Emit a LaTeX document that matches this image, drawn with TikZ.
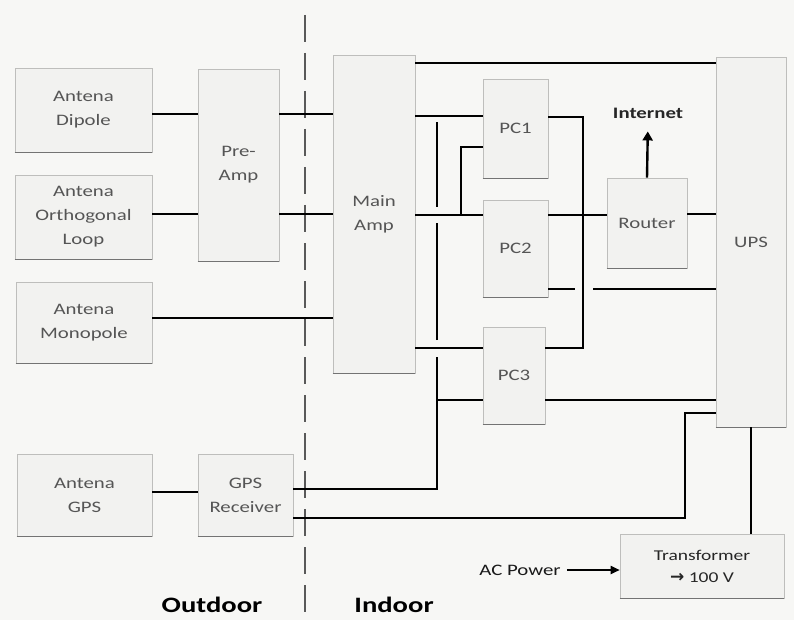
\documentclass[tikz,border=0pt]{standalone}
\usepackage{fontspec}
\setmainfont{Carlito}[FakeStretch=1.3]
\newfontfamily\symfont{DejaVu Sans}
\usetikzlibrary{arrows.meta}
\definecolor{bg}{RGB}{247,247,245}
\definecolor{boxfill}{RGB}{242,242,240}
\definecolor{boxline}{RGB}{190,190,188}
\definecolor{labelgray}{RGB}{85,85,85}
\begin{document}
\begin{tikzpicture}[x=1pt,y=-1pt,
  box/.style={draw=boxline, line width=0.6pt, fill=boxfill, align=center,
    text=labelgray, inner sep=0pt, font=\fontsize{16}{24}\selectfont},
  shadowedge/.style={draw=black!55, line width=1.1pt},
  wire/.style={draw=black, line width=2.4pt},
  sep/.style={draw=black!65, line width=1.5pt, dash pattern=on 27pt off 11pt},
  region/.style={font=\bfseries\fontsize{22}{26}\selectfont, text=black, inner sep=0pt}
]
\useasboundingbox[fill=bg] (0,0) rectangle (794,620);

% separator
\coordinate (septop) at (305,15);
\coordinate (sepbot) at (305,620);
\draw[sep] (septop) -- (sepbot);

% outdoor boxes
\node[box, minimum width=137pt, minimum height=84pt] (dip) at (83.5,110) {Antena\\Dipole};
\node[box, minimum width=137pt, minimum height=84pt] (orth) at (83.5,217) {Antena\\Orthogonal\\Loop};
\node[box, minimum width=136pt, minimum height=81pt] (mono) at (84,322.5) {Antena\\Monopole};
\node[box, minimum width=81pt, minimum height=192pt] (pre) at (238.5,165) {Pre-\\Amp};
\node[box, minimum width=135pt, minimum height=82pt] (gpsA) at (84.5,495) {Antena\\GPS};
\node[box, minimum width=95pt, minimum height=82pt] (gpsR) at (245.5,495) {GPS\\Receiver};

% indoor boxes
\node[box, minimum width=82pt, minimum height=318pt] (main) at (374,214) {Main\\Amp};
\node[box, minimum width=65pt, minimum height=99pt] (pc1) at (515.5,128.5) {PC1};
\node[box, minimum width=65pt, minimum height=97pt] (pc2) at (515.5,248.5) {PC2};
\node[box, minimum width=62pt, minimum height=97pt] (pc3) at (514,375.5) {PC3};
\node[box, minimum width=80pt, minimum height=90pt] (router) at (647,223) {Router};
\node[box, minimum width=70pt, minimum height=370pt] (ups) at (751,242) {UPS};
\node[box, minimum width=164pt, minimum height=64pt, text=black!85, font=\fontsize{15}{22}\selectfont] (trans) at (702,566) {Transformer\\{\symfont\bfseries\fontsize{17}{22}\selectfont →} 100 V};

\foreach \n in {dip,orth,mono,pre,gpsA,gpsR,main,pc1,pc2,pc3,router,ups,trans}
  \draw[shadowedge] (\n.south west) -- (\n.south east);

% labels
\node[font=\bfseries\fontsize{16}{18}\selectfont, text=black!85, inner sep=0pt] (inet) at (648,113) {Internet};
\node[font=\fontsize{16}{18}\selectfont, text=black!90, inner sep=0pt] (ac) at (520,570) {AC Power};
\node[region] (outdoor) at (212,605) {Outdoor};
\node[region] (indoor) at (394,605) {Indoor};

% antennas to amps
\draw[wire] (dip.east |- 0,114) -- (pre.west |- 0,114);
\draw[wire] (orth.east |- 0,214) -- (pre.west |- 0,214);
\draw[wire] (mono.east |- 0,318) -- (main.west |- 0,318);
\draw[wire] (pre.east |- 0,114) -- (main.west |- 0,114);
\draw[wire] (pre.east |- 0,214) -- (main.west |- 0,214);
\draw[wire] (gpsA.east |- 0,492) -- (gpsR.west |- 0,492);

% main amp to PCs
\draw[wire] (main.east |- 0,116) -- (pc1.west |- 0,116);
\draw[wire] (main.east |- 0,215) -- (pc2.west |- 0,215);
\draw[wire] (main.east |- 0,348) -- (pc3.west |- 0,348);
\coordinate (j1) at (461,215);
\draw[wire] (j1) -- (461,147) -- (pc1.west |- 0,147);

% GPS receiver signal line with crossing gaps
\coordinate (g1) at (437,489);
\draw[wire] (gpsR.east |- 0,489) -- (g1) -- (437,357);
\draw[wire] (437,340) -- (437,223);
\draw[wire] (437,207) -- (437,122);
\draw[wire] (437,400) -- (pc3.west |- 0,400);

% PC outputs to router
\coordinate (j2) at (583,117);
\draw[wire] (pc1.east |- 0,117) -- (j2) -- (583,348) -- (pc3.east |- 0,348);
\draw[wire] (pc2.east |- 0,215) -- (router.west |- 0,215);
\draw[wire] (router.east |- 0,214) -- (ups.west |- 0,214);
\draw[line width=2.4pt, -{Triangle[length=9pt,width=10pt]}, shorten >=13pt] (router.north) -- (inet.south);

% power lines
\draw[wire] (main.east |- 0,63) -- (ups.west |- 0,63);
\draw[wire] (pc2.east |- 0,289) -- (575,289);
\draw[wire] (593,289) -- (ups.west |- 0,289);
\draw[wire] (pc3.east |- 0,400) -- (ups.west |- 0,400);
\coordinate (g2) at (685,518);
\draw[wire] (gpsR.east |- 0,518) -- (g2) -- (685,413) -- (ups.west |- 0,413);
\draw[wire] (ups.south) -- (ups.south |- trans.north);
\draw[line width=1.8pt, -{Triangle[length=9pt,width=8pt]}, shorten <=6pt] (ac.east) -- (trans.west |- ac.east);
\end{tikzpicture}
\end{document}
